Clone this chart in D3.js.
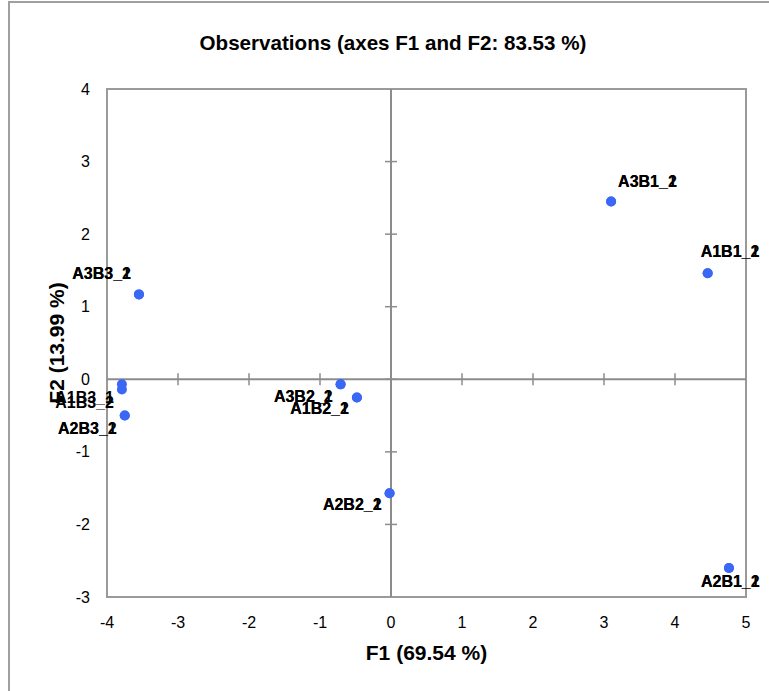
<!DOCTYPE html>
<html>
<head>
<meta charset="utf-8">
<script src="https://cdn.jsdelivr.net/npm/d3@7"></script>
<style>
  html, body { margin: 0; padding: 0; background: #fff; }
  svg { display: block; }
</style>
</head>
<body>
<svg id="chart" width="769" height="691"></svg>
<script>
// ---- data ----
const observations = ["A1B1_1","A1B1_2","A2B1_1","A2B1_2","A3B1_1","A3B1_2",
                      "A1B2_1","A1B2_2","A2B2_1","A2B2_2","A3B2_1","A3B2_2",
                      "A1B3_1","A1B3_2","A2B3_1","A2B3_2","A3B3_1","A3B3_2"];
const f1Values = [4.46, 4.46, 4.76, 4.76, 3.10, 3.10,
                  -0.48, -0.48, -0.02, -0.02, -0.71, -0.71,
                  -3.79, -3.79, -3.75, -3.75, -3.55, -3.55];
const f2Values = [1.46, 1.46, -2.60, -2.60, 2.45, 2.45,
                  -0.25, -0.25, -1.57, -1.57, -0.07, -0.07,
                  -0.07, -0.14, -0.50, -0.50, 1.17, 1.17];
const xTicks = [-4, -3, -2, -1, 0, 1, 2, 3, 4, 5];
const yTicks = [-3, -2, -1, 0, 1, 2, 3, 4];
const chartTitle = "Observations (axes F1 and F2: 83.53 %)";
const xTitle = "F1 (69.54 %)";
const yTitle = "F2 (13.99 %)";

// ---- layout ----
const svg = d3.select("#chart");
const plot = {left: 107, right: 746, top: 89, bottom: 597};
const x = d3.scaleLinear().domain([-4, 5]).range([plot.left, plot.right]);
const y = d3.scaleLinear().domain([-3, 4]).range([plot.bottom, plot.top]);
const grey = "#9a9a9a";
const axisGrey = "#8c8c8c";
const pointColor = "#3a67f4";

// label placement per observation group (style/layout, not data)
const labelPlacement = {
  "A1B1": {anchor: "start", dx: -7, dy: -16},
  "A2B1": {anchor: "start", dx: -28, dy: 19},
  "A3B1": {anchor: "start", dx: 7, dy: -14},
  "A1B2": {anchor: "end", dx: -8, dy: 17},
  "A2B2": {anchor: "end", dx: -8, dy: 17},
  "A3B2": {anchor: "end", dx: -8, dy: 18},
  "A1B3": {anchor: "end", dx: -8, dy: 19},
  "A2B3": {anchor: "end", dx: -8, dy: 18},
  "A3B3": {anchor: "end", dx: -8, dy: -15}
};

// outer chart border
svg.append("rect")
  .attr("x", 9).attr("y", 2).attr("width", 770).attr("height", 700)
  .attr("fill", "none").attr("stroke", "#a0a0a0").attr("stroke-width", 2);

// title
svg.append("text")
  .attr("x", 393).attr("y", 50)
  .attr("text-anchor", "middle")
  .attr("font-family", "'Liberation Sans', Arial, sans-serif")
  .attr("font-weight", "bold").attr("font-size", 20.6)
  .attr("fill", "#000")
  .text(chartTitle);

// plot area border
svg.append("rect")
  .attr("x", plot.left).attr("y", plot.top)
  .attr("width", plot.right - plot.left).attr("height", plot.bottom - plot.top)
  .attr("fill", "none").attr("stroke", grey).attr("stroke-width", 2);

// zero axes
const axesG = svg.append("g");
axesG.append("line")
  .attr("x1", plot.left).attr("x2", plot.right)
  .attr("y1", y(0)).attr("y2", y(0))
  .attr("stroke", axisGrey).attr("stroke-width", 2);
axesG.append("line")
  .attr("x1", x(0)).attr("x2", x(0))
  .attr("y1", plot.top).attr("y2", plot.bottom)
  .attr("stroke", axisGrey).attr("stroke-width", 2);

// tick crosses on zero axes
axesG.selectAll("line.xt").data(xTicks.filter(d => d !== -4 && d !== 5)).enter()
  .append("line").attr("class", "xt")
  .attr("x1", d => x(d)).attr("x2", d => x(d))
  .attr("y1", y(0) - 6).attr("y2", y(0) + 6)
  .attr("stroke", axisGrey).attr("stroke-width", 1.5);
axesG.selectAll("line.yt").data(yTicks.filter(d => d !== -3 && d !== 4)).enter()
  .append("line").attr("class", "yt")
  .attr("x1", x(0) - 6).attr("x2", x(0) + 6)
  .attr("y1", d => y(d)).attr("y2", d => y(d))
  .attr("stroke", axisGrey).attr("stroke-width", 1.5);

// tick labels
const tickFont = "'Liberation Sans', Arial, sans-serif";
svg.append("g").selectAll("text").data(xTicks).enter()
  .append("text")
  .attr("x", d => x(d)).attr("y", 628)
  .attr("text-anchor", "middle")
  .attr("font-family", tickFont).attr("font-size", 16).attr("fill", "#000")
  .text(d => d);
svg.append("g").selectAll("text").data(yTicks).enter()
  .append("text")
  .attr("x", 90).attr("y", d => y(d)).attr("dy", "0.35em")
  .attr("text-anchor", "end")
  .attr("font-family", tickFont).attr("font-size", 16).attr("fill", "#000")
  .text(d => d);

// axis titles
svg.append("text")
  .attr("x", (plot.left + plot.right) / 2).attr("y", 660)
  .attr("text-anchor", "middle")
  .attr("font-family", "'Liberation Sans', Arial, sans-serif")
  .attr("font-weight", "bold").attr("font-size", 21).attr("fill", "#000")
  .text(xTitle);
svg.append("text")
  .attr("transform", `translate(64, ${(plot.top + plot.bottom) / 2}) rotate(-90)`)
  .attr("text-anchor", "middle")
  .attr("font-family", "'Liberation Sans', Arial, sans-serif")
  .attr("font-weight", "bold").attr("font-size", 21).attr("fill", "#000")
  .text(yTitle);

// points
const data = observations.map((n, i) => ({name: n, f1: f1Values[i], f2: f2Values[i]}));
svg.append("g").selectAll("circle").data(data).enter()
  .append("circle")
  .attr("cx", d => x(d.f1)).attr("cy", d => y(d.f2))
  .attr("r", 5)
  .attr("fill", pointColor);

// labels
svg.append("g").selectAll("text").data(data).enter()
  .append("text")
  .each(function(d) {
    const p = labelPlacement[d.name.slice(0, 4)];
    d3.select(this)
      .attr("x", x(d.f1) + p.dx)
      .attr("y", y(d.f2) + p.dy)
      .attr("text-anchor", p.anchor);
  })
  .attr("font-family", "'Liberation Sans', Arial, sans-serif")
  .attr("font-size", 16).attr("font-weight", "bold").attr("fill", "#000")
  .text(d => d.name);
</script>
</body>
</html>
